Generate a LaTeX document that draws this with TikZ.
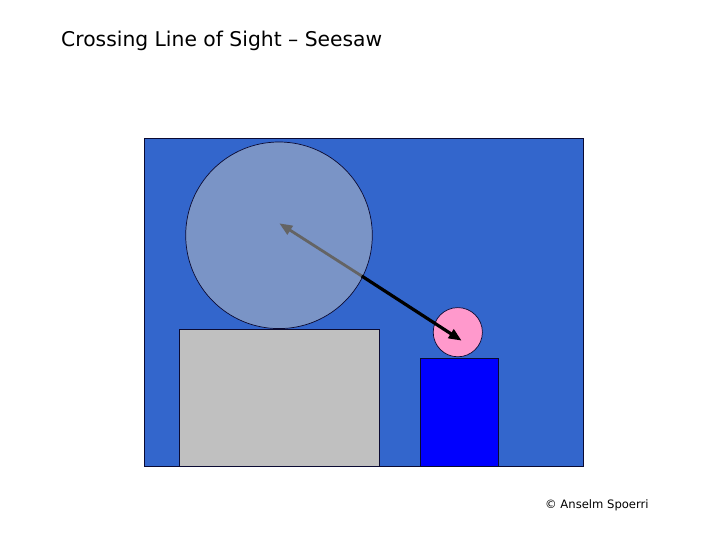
\documentclass[tikz,border=0pt]{standalone}
\usepackage{fontspec}
\setmainfont{DejaVu Sans}
\usetikzlibrary{arrows.meta}
\definecolor{bgblue}{RGB}{51,102,204}
\definecolor{bigcirc}{RGB}{122,148,198}
\definecolor{boxgray}{RGB}{192,192,192}
\definecolor{pinkc}{RGB}{255,153,204}
\definecolor{pureblue}{RGB}{0,0,255}
\definecolor{edgec}{RGB}{10,10,50}
\definecolor{arrgray}{RGB}{100,100,100}
\tikzset{
  figshape/.style={draw=edgec, line width=0.7pt, inner sep=0},
  sight/.style={line width=3.2pt, -{Triangle[length=13pt,width=10pt]}},
}
\begin{document}
\begin{tikzpicture}[x=1pt,y=-1pt]
\useasboundingbox (0,0) rectangle (720,540);
\node[anchor=base west, font=\fontsize{20.3}{24}\selectfont, inner sep=0] (title) at (61,47) {Crossing Line of Sight – Seesaw};
\node[anchor=base west, font=\fontsize{11.6}{14}\selectfont, inner sep=0] (copy) at (545,508) {© Anselm Spoerri};
\node[figshape, fill=bgblue, rectangle, minimum width=438.4pt, minimum height=327.7pt, anchor=north west] (bg) at (144.3,138.3) {};
\node[figshape, fill=bigcirc, circle, minimum size=186.6pt] (big) at (279,235.3) {};
\node[figshape, fill=boxgray, rectangle, minimum width=199.4pt, minimum height=136.7pt, anchor=north west] (gbox) at (179.3,329.3) {};
\node[figshape, fill=pinkc, circle, minimum size=49.2pt] (pink) at (457.8,332.2) {};
\node[figshape, fill=pureblue, rectangle, minimum width=77.7pt, minimum height=107.7pt, anchor=north west] (bbox) at (420,358.3) {};
\coordinate (cross) at (361.7,276.0);
\coordinate (gtip) at (279.3,223.3);
\coordinate (btip) at (461.7,340.7);
\draw[sight, draw=arrgray, fill=arrgray, line width=2.8pt] (cross) -- (gtip);
\draw[sight, draw=black, fill=black] (cross) -- (btip);
\end{tikzpicture}
\end{document}
